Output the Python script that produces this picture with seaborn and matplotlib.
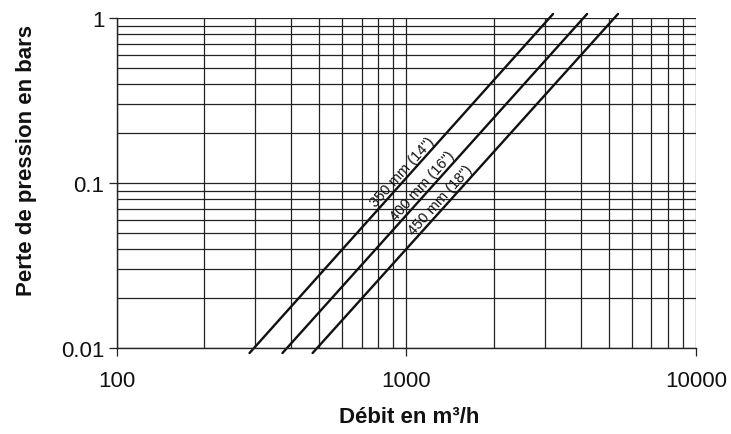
import pandas as pd
import seaborn as sns
import matplotlib.pyplot as plt
from matplotlib.ticker import LogLocator, NullFormatter

# Pipe curves (flow in m3/h at the two ends of each line)
pipes = ["350 mm (14\")", "400 mm (16\")", "450 mm (18\")"]
flow_350 = [287, 3210]
flow_400 = [373, 4207]
flow_450 = [474, 5380]
pressure = [0.0093, 1.06]

# label anchor points (data coords)
label_x = [969, 1136, 1312]
label_y = [0.118, 0.0973, 0.080]

x_ticks = [100, 1000, 10000]
x_ticklabels = ["100", "1000", "10000"]
y_ticks = [0.01, 0.1, 1]
y_ticklabels = ["0.01", "0.1", "1"]

rows = []
for name, flows in zip(pipes, [flow_350, flow_400, flow_450]):
    for q, p in zip(flows, pressure):
        rows.append({"pipe": name, "debit": q, "perte": p})
df = pd.DataFrame(rows)

sns.set_style("white")
plt.rcParams["font.family"] = ["Liberation Sans", "DejaVu Sans"]

fig = plt.figure(figsize=(7.31, 4.35), dpi=100)
ax = fig.add_axes([0.160, 0.198, 0.792, 0.758])

ax.set_xscale("log")
ax.set_yscale("log")
ax.set_xlim(100, 10000)
ax.set_ylim(0.01, 1)

ax.xaxis.set_minor_locator(LogLocator(base=10, subs=range(2, 10)))
ax.yaxis.set_minor_locator(LogLocator(base=10, subs=range(2, 10)))
ax.xaxis.set_minor_formatter(NullFormatter())
ax.yaxis.set_minor_formatter(NullFormatter())
ax.grid(True, which="both", color="#222222", linewidth=0.9)
ax.set_axisbelow(True)

sns.lineplot(
    data=df, x="debit", y="perte", hue="pipe",
    palette=["#111111"] * 3, linewidth=1.7, legend=False, ax=ax,
)
for line in ax.get_lines():
    line.set_clip_on(False)

for name, lx, ly in zip(pipes, label_x, label_y):
    ax.text(lx, ly, name, rotation=48, ha="center", va="center",
            rotation_mode="anchor", fontsize=10.5, color="#111111")

ax.set_xticks(x_ticks)
ax.set_xticklabels(x_ticklabels)
ax.set_yticks(y_ticks)
ax.set_yticklabels(y_ticklabels)
ax.tick_params(axis="both", which="major", direction="out", length=6,
               width=0.9, color="#222222", labelsize=16, labelcolor="#111111",
               bottom=True, left=True)
ax.tick_params(axis="x", which="major", pad=10)
ax.tick_params(axis="y", which="major", pad=3)
ax.tick_params(axis="both", which="minor", length=0)

for side in ["top", "right"]:
    ax.spines[side].set_visible(False)
for side in ["left", "bottom"]:
    ax.spines[side].set_color("#222222")
    ax.spines[side].set_linewidth(1.0)

ax.set_xlabel("Débit en m³/h", fontsize=16, fontweight="bold", color="#111111")
ax.set_ylabel("Perte de pression en bars", fontsize=16, fontweight="bold",
              color="#111111")
ax.xaxis.set_label_coords(0.505, -0.175)
ax.yaxis.set_label_coords(-0.138, 0.57)

fig.savefig("out.png", dpi=100)
